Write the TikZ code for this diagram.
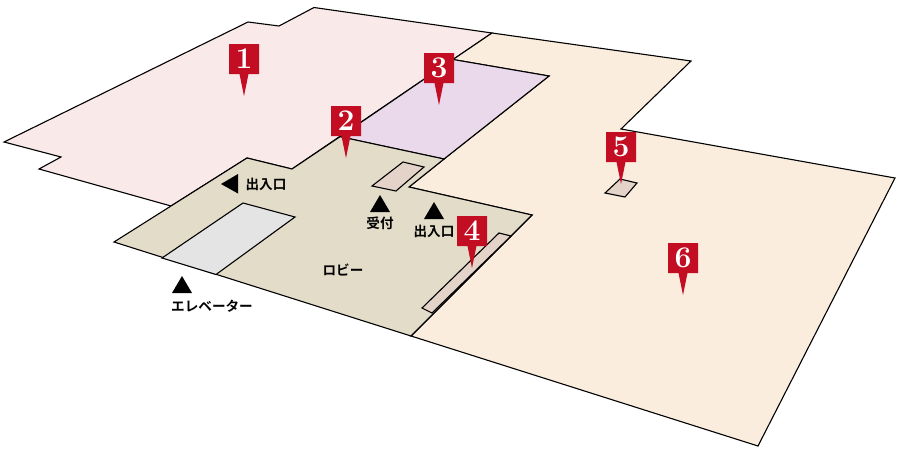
\documentclass[tikz,border=0pt]{standalone}
\usepackage{fontspec}
\newfontfamily\jpfont{Noto Sans CJK JP}[BoldFont={* Bold}]
\definecolor{roompink}{HTML}{F9E9E9}
\definecolor{roompurple}{HTML}{E9D9EA}
\definecolor{roomorange}{HTML}{FAEDDE}
\definecolor{roomlobby}{HTML}{E3DCC9}
\definecolor{roomcounter}{HTML}{E3D3C8}
\definecolor{roomlift}{HTML}{E4E4E4}
\definecolor{pinred}{HTML}{C30D23}
\tikzset{
  room/.style={draw=black,line width=1.1pt,line join=miter,miter limit=10},
  pinbody/.style={fill=pinred,draw=none},
  pinnum/.style={text=white,font=\fontsize{30}{30}\selectfont\bfseries,inner sep=0pt,anchor=center},
  marktri/.style={fill=black,draw=none},
  jplabel/.style={text=black,font=\fontsize{13.6}{14}\jpfont\bfseries,inner sep=0pt,anchor=center}
}
\newcommand{\pinmark}[5]{% name, cx, top, tip y, number
  \fill[pinbody] ({#2-15},#3) -- ({#2+15},#3) -- ({#2+15},{#3+30}) -- ({#2+4.5},{#3+30}) -- (#2,#4) -- ({#2-4.5},{#3+30}) -- ({#2-15},{#3+30}) -- cycle;
  \node[pinnum] (#1) at (#2,{#3+15}) {#5};
}
\begin{document}
\begin{tikzpicture}[x=1pt,y=-1pt]
\useasboundingbox (0,0) rectangle (900,450);
% rooms
\draw[room,fill=roompink] (4,142) -- (248,22) -- (279,26) -- (314,7.5) -- (492,33) -- (292,169) -- (247,158) -- (171,206) -- (39,169) -- (61,157) -- cycle;
\draw[room,fill=roomorange] (492,33) -- (691,61) -- (621,129) -- (895,178) -- (758,446) -- (411,336) -- (532,215) -- (409,187) -- (444,159) -- (549,76) -- (453,59.5) -- cycle;
\draw[room,fill=roompurple] (453,59.5) -- (549,76) -- (444,159) -- (340,136.7) -- cycle;
\draw[room,fill=roomlobby] (114,242) -- (247,158) -- (292,169) -- (340,136.7) -- (444,159) -- (409,187) -- (532,215) -- (411,336) -- cycle;
% fittings
\draw[room,fill=roomlift] (162,258) -- (243,203) -- (295,217) -- (216,274.5) -- cycle;
\draw[room,fill=roomcounter] (372,186) -- (403,162) -- (424,167) -- (396,191) -- cycle;
\draw[room,fill=roomcounter] (422,308) -- (499,233) -- (511,236) -- (432,313) -- cycle;
\draw[room,fill=roomcounter] (605,193) -- (620,179) -- (637,183) -- (625,197) -- cycle;
% direction triangles
\fill[marktri] (221,184) -- (238,174) -- (238,193.5) -- cycle;
\fill[marktri] (370,212) -- (390,212) -- (380,195) -- cycle;
\fill[marktri] (424,219) -- (444,219) -- (434,202) -- cycle;
\fill[marktri] (172,293) -- (192,293) -- (182,276) -- cycle;
% labels
\node[jplabel] (entryw) at (266,184) {出入口};
\node[jplabel] (desk) at (380,223) {受付};
\node[jplabel] (entrye) at (434,231) {出入口};
\node[jplabel] (lobby) at (343,270) {ロビー};
\node[jplabel] (lift) at (212,306) {エレベーター};
% pins
\pinmark{pinone}{244}{44}{96}{1}
\pinmark{pintwo}{346}{106}{158}{2}
\pinmark{pinthree}{439}{53}{105}{3}
\pinmark{pinfour}{472}{216}{268}{4}
\pinmark{pinfive}{621}{132}{184}{5}
\pinmark{pinsix}{683}{243}{295}{6}
\end{tikzpicture}
\end{document}
